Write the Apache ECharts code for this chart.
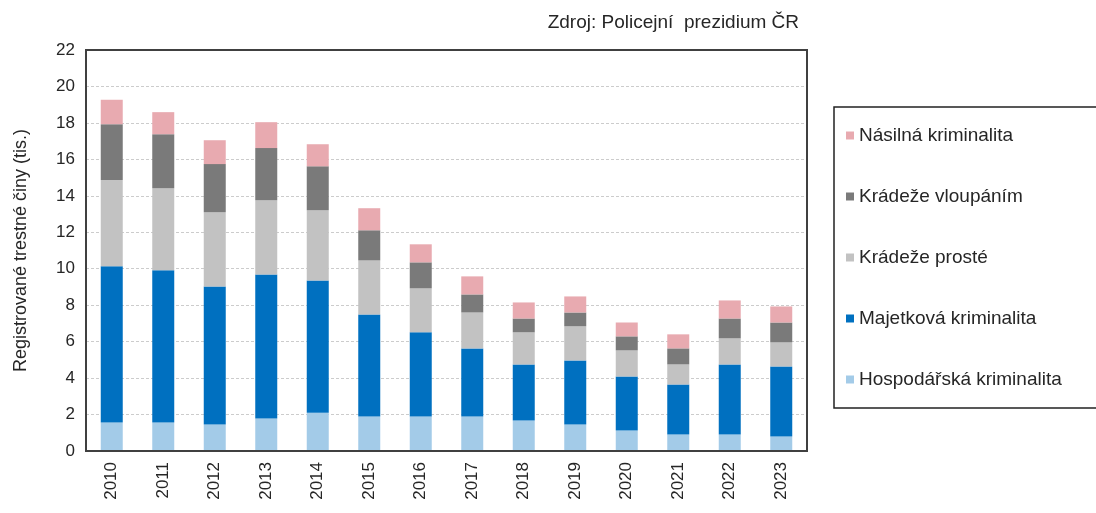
<!DOCTYPE html>
<html>
<head>
<meta charset="utf-8">
<script src="https://cdn.jsdelivr.net/npm/echarts@6/dist/echarts.min.js"></script>
<style>
  html, body { margin: 0; padding: 0; background: #fff; }
  #chart { width: 1096px; height: 513px; }
</style>
</head>
<body>
<div id="chart"></div>
<script>
var years = ['2010','2011','2012','2013','2014','2015','2016','2017','2018','2019','2020','2021','2022','2023'];
// hodnoty v tis.
var hospodarska = [1.56, 1.56, 1.45, 1.78, 2.10, 1.89, 1.89, 1.89, 1.67, 1.45, 1.12, 0.90, 0.90, 0.79];
var majetkova   = [8.57, 8.35, 7.58, 7.91, 7.26, 5.60, 4.62, 3.74, 3.08, 3.52, 2.97, 2.75, 3.85, 3.85];
var prosteKradeze = [4.74, 4.51, 4.07, 4.07, 3.85, 2.97, 2.41, 1.97, 1.76, 1.87, 1.43, 1.10, 1.43, 1.32];
var vloupani    = [3.06, 2.96, 2.64, 2.86, 2.41, 1.65, 1.43, 0.99, 0.76, 0.76, 0.77, 0.88, 1.09, 1.09];
var nasilna     = [1.34, 1.21, 1.31, 1.42, 1.21, 1.21, 0.99, 0.99, 0.88, 0.88, 0.76, 0.77, 0.99, 0.88];
var yTicks = [0, 2, 4, 6, 8, 10, 12, 14, 16, 18, 20, 22];

var font = 'Liberation Sans, Arial, sans-serif';
var myChart = echarts.init(document.getElementById('chart'), null, { renderer: 'canvas' });

function bar(name, data, color) {
  return {
    name: name,
    type: 'bar',
    stack: 'celkem',
    barWidth: 22,
    data: data,
    itemStyle: { color: color },
    emphasis: { disabled: true }
  };
}

var option = {
  animation: false,
  textStyle: { fontFamily: font },
  title: {
    text: 'Zdroj: Policejní  prezidium ČR',
    right: 292,
    top: 8,
    textStyle: { fontSize: 19, fontWeight: 'normal', color: '#262626', fontFamily: font }
  },
  grid: { left: 86, top: 50, width: 721, height: 401 },
  legend: {
    orient: 'vertical',
    left: 834,
    top: 107,
    padding: [19, 60, 19, 12],
    borderColor: '#222',
    borderWidth: 1.5,
    itemWidth: 8,
    itemHeight: 8,
    itemGap: 42,
    icon: 'rect',
    textStyle: { fontSize: 19, color: '#262626', lineHeight: 18, fontFamily: font },
    data: ['Násilná kriminalita', 'Krádeže vloupáním', 'Krádeže prosté', 'Majetková kriminalita', 'Hospodářská kriminalita']
  },
  xAxis: {
    type: 'category',
    data: years,
    axisLine: { show: true, lineStyle: { color: '#404040', width: 2 } },
    axisTick: { show: false },
    axisLabel: { rotate: 90, fontSize: 17, color: '#262626', margin: 11 }
  },
  yAxis: {
    type: 'value',
    min: 0,
    max: yTicks[yTicks.length - 1],
    interval: 2,
    name: 'Registrované trestné činy (tis.)',
    nameLocation: 'middle',
    nameGap: 56,
    nameTextStyle: { fontSize: 18, color: '#262626' },
    axisLine: { show: true, lineStyle: { color: '#404040', width: 2 } },
    axisTick: { show: false },
    axisLabel: { fontSize: 17, color: '#262626', margin: 11 },
    splitLine: { show: true, lineStyle: { color: '#cccccc', type: [3, 2], width: 1 } }
  },
  series: [
    bar('Hospodářská kriminalita', hospodarska, '#a3cbe8'),
    bar('Majetková kriminalita', majetkova, '#0070c0'),
    bar('Krádeže prosté', prosteKradeze, '#c2c2c2'),
    bar('Krádeže vloupáním', vloupani, '#7a7a7a'),
    bar('Násilná kriminalita', nasilna, '#e8aab0')
  ],
  graphic: [{
    type: 'rect',
    shape: { x: 86, y: 50, width: 721, height: 401 },
    style: { fill: 'none', stroke: '#404040', lineWidth: 2 },
    silent: true,
    z: 10
  }]
};

myChart.setOption(option);
</script>
</body>
</html>
